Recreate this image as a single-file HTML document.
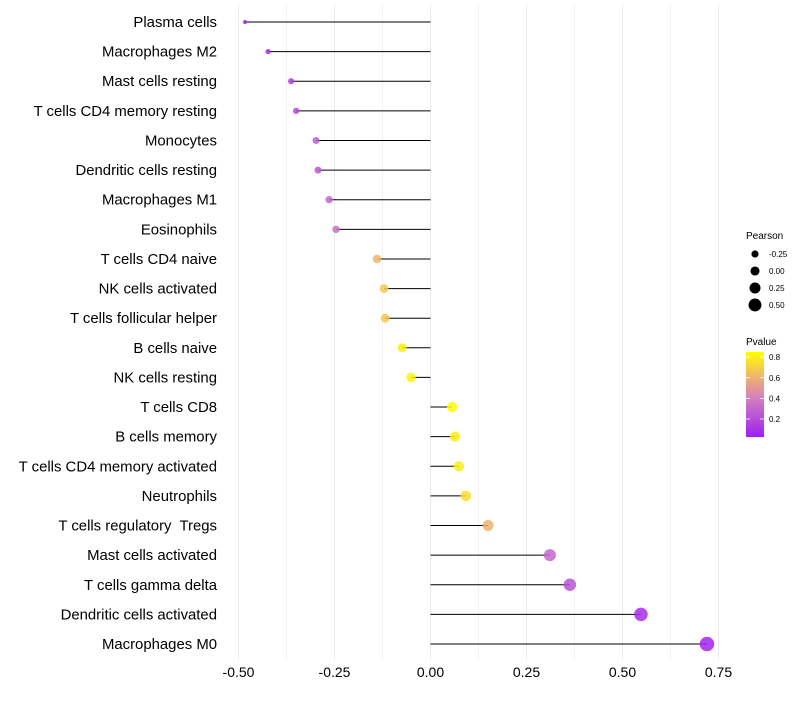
<!DOCTYPE html>
<html><head><meta charset="utf-8"><style>
body{margin:0;background:#fff;font-family:"Liberation Sans",sans-serif}
text{white-space:pre}
</style></head><body>
<svg id="c" width="800" height="700" xmlns="http://www.w3.org/2000/svg"></svg>
<script>
const categories=["Plasma cells","Macrophages M2","Mast cells resting","T cells CD4 memory resting","Monocytes","Dendritic cells resting","Macrophages M1","Eosinophils","T cells CD4 naive","NK cells activated","T cells follicular helper","B cells naive","NK cells resting","T cells CD8","B cells memory","T cells CD4 memory activated","Neutrophils","T cells regulatory  Tregs","Mast cells activated","T cells gamma delta","Dendritic cells activated","Macrophages M0"];
const pearson=[-0.483,-0.423,-0.363,-0.350,-0.298,-0.293,-0.264,-0.246,-0.139,-0.121,-0.118,-0.074,-0.051,0.056,0.064,0.074,0.092,0.150,0.311,0.363,0.548,0.720];
const pvalue=[0.05,0.08,0.15,0.17,0.25,0.24,0.30,0.35,0.62,0.68,0.67,0.80,0.82,0.84,0.80,0.80,0.75,0.60,0.30,0.22,0.08,0.04];
const xTicks=[-0.5,-0.25,0,0.25,0.5,0.75];
const xTickLabels=["-0.50","-0.25","0.00","0.25","0.50","0.75"];
const sizeLegend=[-0.25,0,0.25,0.5];
const sizeLegendLabels=["-0.25","0.00","0.25","0.50"];
const pTicks=[0.2,0.4,0.6,0.8];

const svg=document.getElementById('c');
const NS='http://www.w3.org/2000/svg';
const x=v=>430.5+v*384;
const y=i=>22+i*(622/21);
const r=v=>Math.max(1.5,Math.sqrt(Math.max(0,24+40*v)));
const stops=[[0.025,[160,32,240]],[0.4,[208,128,192]],[0.6,[240,176,112]],[0.85,[255,255,0]]];
function col(p){
  if(p<=stops[0][0])return 'rgb('+stops[0][1]+')';
  for(let k=1;k<stops.length;k++){if(p<=stops[k][0]){const a=stops[k-1],b=stops[k],t=(p-a[0])/(b[0]-a[0]);
    return 'rgb('+a[1].map((c,j)=>Math.round(c+(b[1][j]-c)*t)).join(',')+')';}}
  return 'rgb('+stops[stops.length-1][1]+')';
}
function el(tag,attrs,parent){const e=document.createElementNS(NS,tag);for(const k in attrs)e.setAttribute(k,attrs[k]);(parent||svg).appendChild(e);return e;}

for(let v=-0.5;v<=0.751;v+=0.125){
  const g=el('line',{x1:x(v),x2:x(v),y1:5,y2:660,stroke:'#ebebeb','stroke-width':Math.abs(v*4-Math.round(v*4))<1e-6?1:0.6});
  
  
}
xTicks.forEach((v,i)=>{
  const t=el('text',{x:x(v),y:677,'text-anchor':'middle','font-size':14,fill:'#000'});
  t.textContent=xTickLabels[i];
  
  
});
categories.forEach((c,i)=>{
  const t=el('text',{x:217,y:y(i)+5,'text-anchor':'end','font-size':14.9,fill:'#000'});
  t.textContent=c;
  
  
  const l=el('line',{x1:x(0),x2:x(pearson[i]),y1:y(i),y2:y(i),stroke:'#000','stroke-width':1});
  
  
  const p=el('circle',{cx:x(pearson[i]),cy:y(i),r:r(pearson[i]),fill:col(pvalue[i]),'fill-opacity':0.85});
  
  
});
const st=el('text',{x:746,y:239,'font-size':10,fill:'#000'});st.textContent='Pearson';


sizeLegend.forEach((v,i)=>{
  const cy=254+i*17;
  const c=el('circle',{cx:755,cy:cy,r:3.6+i*0.95,fill:'#000'});
  
  
  const t=el('text',{x:769,y:cy+3,'font-size':8,fill:'#000'});t.textContent=sizeLegendLabels[i];
  
  
});
const ct=el('text',{x:746,y:345,'font-size':10,fill:'#000'});ct.textContent='Pvalue';


const defs=el('defs',{});
const lg=el('linearGradient',{id:'pg',x1:0,y1:1,x2:0,y2:0},defs);
stops.forEach(s=>el('stop',{offset:(s[0]-0.025)/(0.85-0.025),'stop-color':'rgb('+s[1]+')'},lg));
const barTop=352,barBot=437,pY=p=>barBot-(p-0.025)/(0.85-0.025)*(barBot-barTop);
const bar=el('rect',{x:746,y:barTop,width:18,height:barBot-barTop,fill:'url(#pg)'});


pTicks.forEach(p=>{
  el('line',{x1:746,x2:750,y1:pY(p),y2:pY(p),stroke:'#fff','stroke-width':0.8});
  el('line',{x1:760,x2:764,y1:pY(p),y2:pY(p),stroke:'#fff','stroke-width':0.8});
  const t=el('text',{x:769,y:pY(p)+3,'font-size':8,fill:'#000'});t.textContent=p.toFixed(1);
  
  
});
</script>
</body></html>
